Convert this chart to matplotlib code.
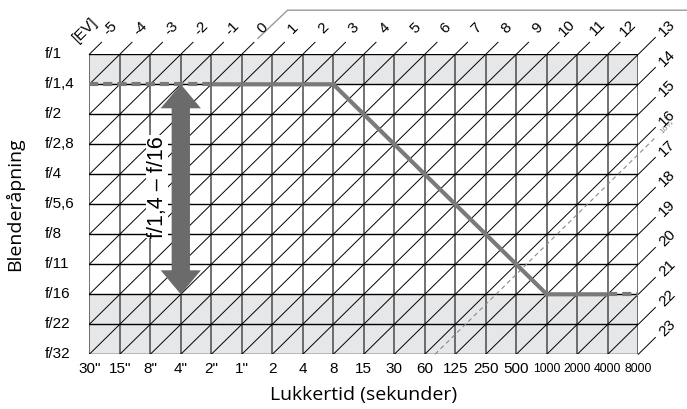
import matplotlib
matplotlib.use("Agg")
import matplotlib.pyplot as plt
from matplotlib.patches import Rectangle, Polygon

# Belichtungsprogramm-Diagramm (Lukkertid / Blenderåpning)
shutter_labels = ['30"', '15"', '8"', '4"', '2"', '1"', '2', '4', '8', '15', '30',
                  '60', '125', '250', '500', '1000', '2000', '4000', '8000']
aperture_labels = ['f/1', 'f/1,4', 'f/2', 'f/2,8', 'f/4', 'f/5,6', 'f/8',
                   'f/11', 'f/16', 'f/22', 'f/32']
ev_top = list(range(-5, 13))
ev_right = list(range(13, 24))

# Programmlinie (Verschlusszeit, Blende); erster und letzter Abschnitt gestrichelt
program_shutter = ['30"', '2"', '8', '1000', '4000', '8000']
program_aperture = ['f/1,4', 'f/1,4', 'f/1,4', 'f/16', 'f/16', 'f/16']

# graue Bereiche (Blendenbereich außerhalb des Objektivs)
shaded_ranges = [('f/1', 'f/1,4'), ('f/16', 'f/32')]
# Pfeil f/1,4 - f/16 bei 4"
arrow_shutter = '4"'
arrow_range = ('f/1,4', 'f/16')
extra_ev = 16 + 1 / 3

SANS = ['Liberation Sans', 'DejaVu Sans']
LABEL = ['Open Sans', 'DejaVu Sans']

sx = {s: i for i, s in enumerate(shutter_labels)}
ay = {a: i for i, a in enumerate(aperture_labels)}
ncol = len(shutter_labels) - 1
nrow = len(aperture_labels) - 1

fig = plt.figure(figsize=(6.87, 4.09), dpi=100)
ax = fig.add_axes([89.3 / 687, 1 - 354.3 / 409, 549 / 687, 300 / 409])
ax.set_xlim(0, ncol)
ax.set_ylim(nrow, 0)
ax.axis("off")

# Schattierung
for a0, a1 in shaded_ranges:
    ax.add_patch(Rectangle((0, ay[a0]), ncol, ay[a1] - ay[a0],
                           facecolor="#e6e7e8", edgecolor="none", zorder=0))

# Raster
for c in range(ncol + 1):
    ax.plot([c, c], [0, nrow], color="#4a4a4a", lw=1.1, zorder=2)
for r in range(nrow + 1):
    ax.plot([0, ncol], [r, r], color="black", lw=1.0, zorder=2)

# Diagonalen (konstanter EV) inkl. Verlängerung nach außen
ext_top = 0.4
ext_right = 0.56
for k in range(1, ncol + nrow):
    c0 = max(0, k - nrow)
    c1 = min(ncol, k)
    ax.plot([c0, c1], [k - c0, k - c1], color="black", lw=0.7, zorder=2)
for c in range(ncol):
    ax.plot([c, c + ext_top], [0, -ext_top], color="black", lw=0.7,
            zorder=2, clip_on=False)
for r in range(nrow + 1):
    ax.plot([ncol, ncol + ext_right], [r, r - ext_right], color="black",
            lw=0.7, zorder=2, clip_on=False)

# EV 16 1/3 gestrichelt
s = extra_ev + 5
ax.plot([s - nrow, ncol + ext_right], [nrow, s - ncol - ext_right],
        color="#8a8a8a", lw=0.8, ls=(0, (4, 3)), zorder=2, clip_on=False)
ax.text(ncol + 0.95, s - ncol - 0.9, "16\u2153", color="#8a8a8a", fontsize=6,
        rotation=45, ha="center", va="center", family=SANS)

# EV-Beschriftung
for ev in ev_top:
    c = ev + 5
    ax.text(c + 0.68, -0.88, f"{ev}", rotation=45, ha="center", va="center",
            fontsize=11, family=SANS, clip_on=False)
for ev in ev_right:
    r = ev + 5 - ncol
    ax.text(ncol + 0.94, r - 0.88, f"{ev}", rotation=45, ha="center",
            va="center", fontsize=11, family=SANS, clip_on=False)
ax.text(-0.14, -0.8, "[EV]", rotation=45, ha="center", va="center",
        fontsize=11, family=SANS)

# Klammerlinie oben rechts
ax.plot([5.53, 6.5, 20], [-0.53, -1.47, -1.47], color="#9a9a9a", lw=1.0,
        clip_on=False)

# Programmlinie
px = [sx[s_] for s_ in program_shutter]
py = [ay[a] for a in program_aperture]
gray = "#7a7a7a"
ax.plot(px[0:2], py[0:2], color=gray, lw=3, ls=(0, (2.2, 1.2)), zorder=4)
ax.plot(px[1:5], py[1:5], color=gray, lw=3, zorder=4, solid_capstyle="butt")
ax.plot(px[4:6], py[4:6], color=gray, lw=3, ls=(0, (2.2, 1.2)), zorder=4)

# Doppelpfeil
xa = sx[arrow_shutter]
ya0, ya1 = ay[arrow_range[0]], ay[arrow_range[1]]
hw, sw, hl = 0.66, 0.30, 0.8
pts = [(xa, ya0), (xa + hw, ya0 + hl), (xa + sw, ya0 + hl),
       (xa + sw, ya1 - hl), (xa + hw, ya1 - hl), (xa, ya1),
       (xa - hw, ya1 - hl), (xa - sw, ya1 - hl), (xa - sw, ya0 + hl),
       (xa - hw, ya0 + hl)]
ax.add_patch(Polygon(pts, closed=True, facecolor="#6b6b6b", edgecolor="none",
                     zorder=5))
ax.text(2.22, 4.42, "f/1,4 \u2013 f/16", rotation=90, ha="center", va="center",
        fontsize=15.5, family=SANS, zorder=6,
        bbox=dict(facecolor="white", edgecolor="none", pad=0.5))

# Achsenbeschriftung
for i, a in enumerate(aperture_labels):
    ax.text(-1.45, i, a, ha="left", va="center", fontsize=11, family=SANS)
for i, s_ in enumerate(shutter_labels):
    # vierstellige Zeiten sind im Original schmaler gesetzt
    fs = 8.8 if len(s_) == 4 else 11
    ax.text(i, 10.5, s_, ha="center", va="center", fontsize=fs, family=SANS)

ax.text(9.0, 11.36, "Lukkertid (sekunder)", ha="center", va="center",
        fontsize=14, family=LABEL)
ax.text(-2.45, 5.0, "Blenderåpning", ha="center", va="center", rotation=90,
        fontsize=14, family=LABEL)

fig.savefig("out.png", dpi=100)
